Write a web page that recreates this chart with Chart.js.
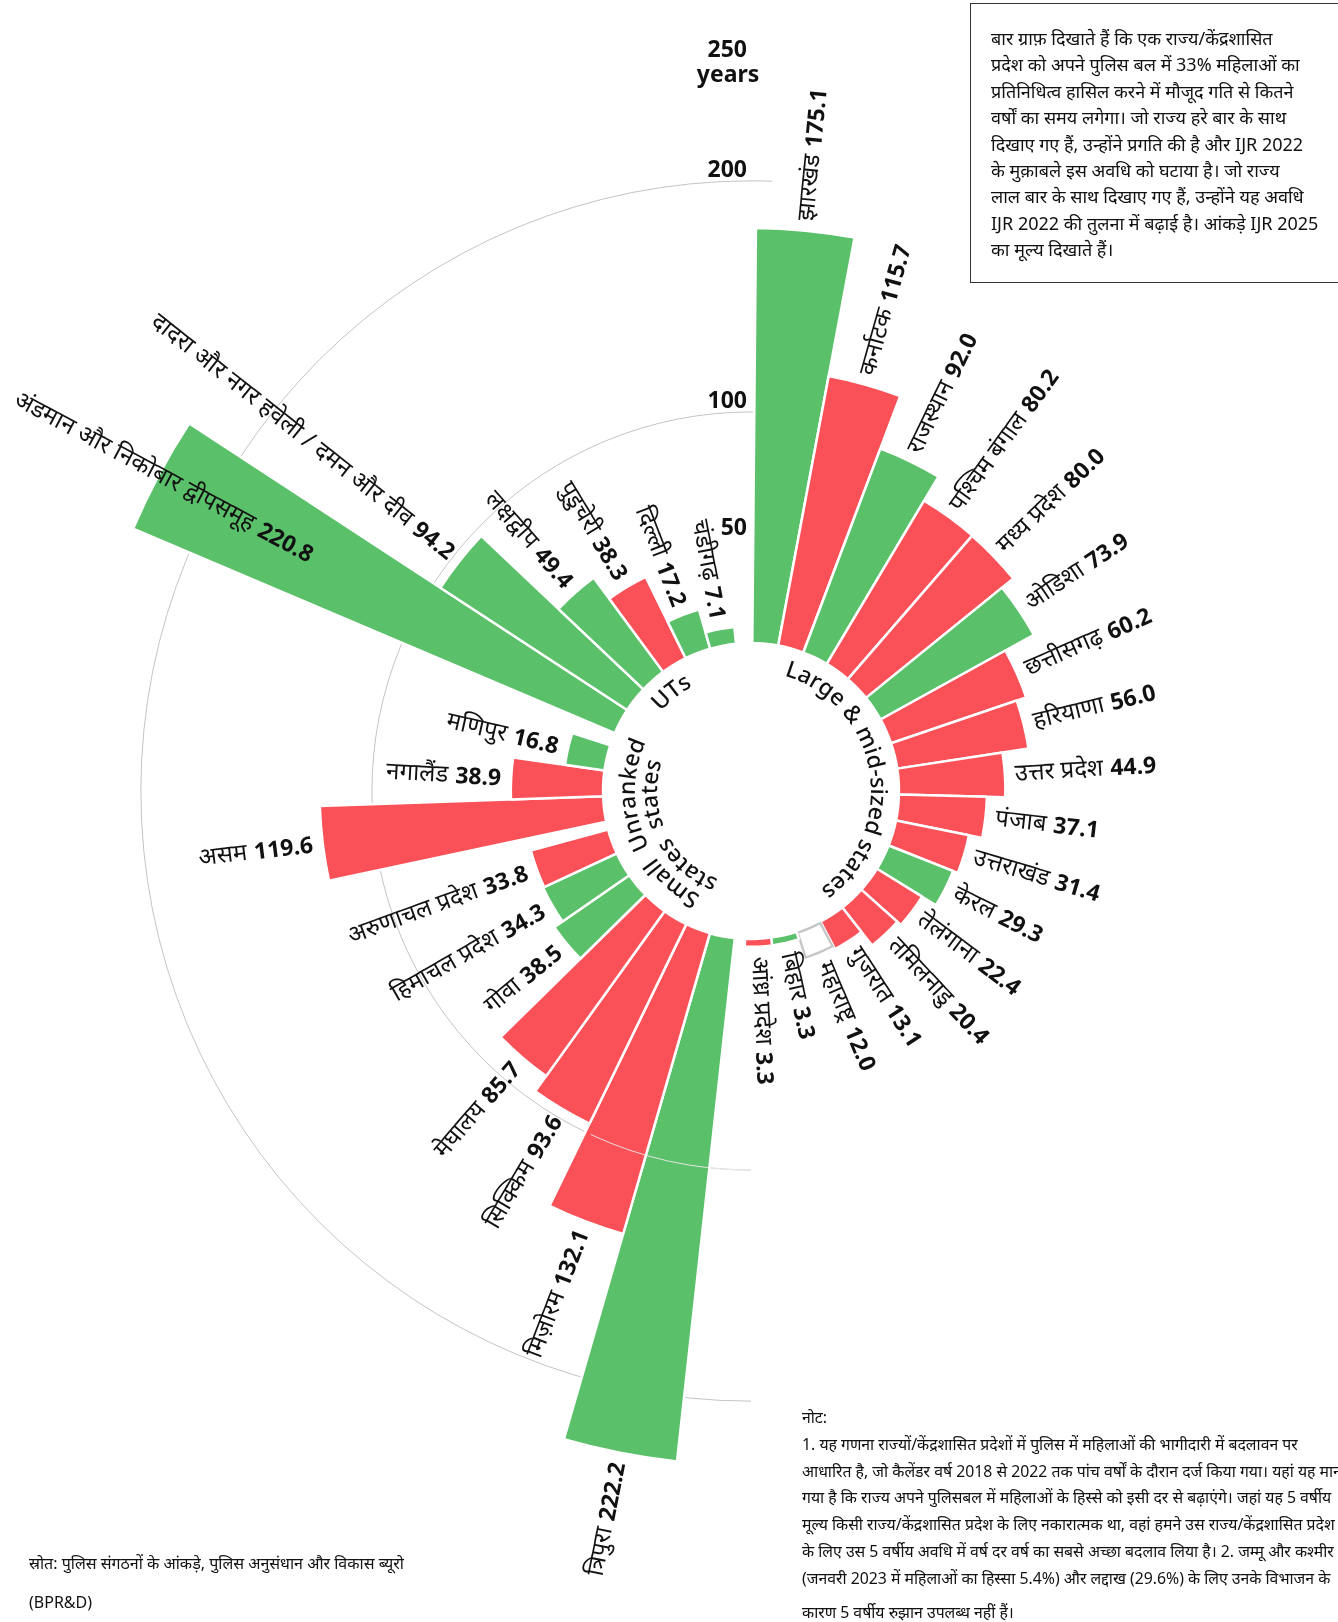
<!DOCTYPE html>
<html lang="hi">
<head>
<meta charset="utf-8">
<title>पुलिस बल में 33% महिलाओं तक पहुंचने में लगने वाले वर्ष</title>
<script src="https://cdn.jsdelivr.net/npm/chart.js@4.4.1/dist/chart.umd.min.js"></script>
<style>
  body { margin: 0; background: #fff; font-family: "Noto Sans", sans-serif; color: #111; }
  #wrap { position: relative; width: 1338px; height: 1622px; overflow: hidden; }
  #chart { position: absolute; left: 0; top: 0; }
  .explain {
    position: absolute; left: 970px; top: 3px; width: 372px; height: 280px;
    box-sizing: border-box; border: 1.5px solid #333; padding: 21px 0 0 20px;
    font-size: 18px; line-height: 26.4px; white-space: nowrap;
  }
  .notes { position: absolute; left: 802px; top: 1404px; font-size: 15.8px; line-height: 26.8px; white-space: nowrap; }
  .notes .last { margin-top: 7px; }
  .source { position: absolute; left: 29px; top: 1544px; font-size: 16px; line-height: 39px; white-space: nowrap; }
</style>
</head>
<body>
<div id="wrap">
  <canvas id="chart" width="1338" height="1622"></canvas>
  <div class="explain">
    बार ग्राफ़ दिखाते हैं कि एक राज्य/केंद्रशासित<br>
    प्रदेश को अपने पुलिस बल में 33% महिलाओं का<br>
    प्रतिनिधित्व हासिल करने में मौजूद गति से कितने<br>
    वर्षों का समय लगेगा। जो राज्य हरे बार के साथ<br>
    दिखाए गए हैं, उन्होंने प्रगति की है और IJR 2022<br>
    के मुक़ाबले इस अवधि को घटाया है। जो राज्य<br>
    लाल बार के साथ दिखाए गए हैं, उन्होंने यह अवधि<br>
    IJR 2022 की तुलना में बढ़ाई है। आंकड़े IJR 2025<br>
    का मूल्य दिखाते हैं।
  </div>
  <div class="notes">
    नोट:<br>
    1. यह गणना राज्यों/केंद्रशासित प्रदेशों में पुलिस में महिलाओं की भागीदारी में बदलावन पर<br>
    आधारित है, जो कैलेंडर वर्ष 2018 से 2022 तक पांच वर्षों के दौरान दर्ज किया गया। यहां यह माना<br>
    गया है कि राज्य अपने पुलिसबल में महिलाओं के हिस्से को इसी दर से बढ़ाएंगे। जहां यह 5 वर्षीय<br>
    मूल्य किसी राज्य/केंद्रशासित प्रदेश के लिए नकारात्मक था, वहां हमने उस राज्य/केंद्रशासित प्रदेश<br>
    के लिए उस 5 वर्षीय अवधि में वर्ष दर वर्ष का सबसे अच्छा बदलाव लिया है। 2. जम्मू और कश्मीर<br>
    (जनवरी 2023 में महिलाओं का हिस्सा 5.4%) और लद्दाख (29.6%) के लिए उनके विभाजन के
    <div class="last">कारण 5 वर्षीय रुझान उपलब्ध नहीं हैं।</div>
  </div>
  <div class="source">
    स्रोत: पुलिस संगठनों के आंकड़े, पुलिस अनुसंधान और विकास ब्यूरो<br>
    (BPR&amp;D)
  </div>
</div>
<script>
// years needed to reach 33% women in police (IJR 2025)
// change vs IJR 2022: 'fell' = green, 'rose' = red, 'flat' = no colour
const LARGE_NAMES = ['झारखंड', 'कर्नाटक', 'राजस्थान', 'पश्चिम बंगाल', 'मध्य प्रदेश', 'ओडिशा',
    'छत्तीसगढ़', 'हरियाणा', 'उत्तर प्रदेश', 'पंजाब', 'उत्तराखंड', 'केरल', 'तेलंगाना',
    'तमिलनाडु', 'गुजरात', 'महाराष्ट्र', 'बिहार', 'आंध्र प्रदेश'];
const LARGE_YEARS = [175.1, 115.7, 92.0, 80.2, 80.0, 73.9, 60.2, 56.0, 44.9, 37.1, 31.4, 29.3,
    22.4, 20.4, 13.1, 12.0, 3.3, 3.3];
const LARGE_CHANGE = ['fell', 'rose', 'fell', 'rose', 'rose', 'fell', 'rose', 'rose', 'rose',
    'rose', 'rose', 'fell', 'rose', 'rose', 'rose', 'flat', 'fell', 'rose'];

const SMALL_NAMES = ['त्रिपुरा', 'मिज़ोरम', 'सिक्किम', 'मेघालय', 'गोवा', 'हिमाचल प्रदेश', 'अरुणाचल प्रदेश'];
const SMALL_YEARS = [222.2, 132.1, 93.6, 85.7, 38.5, 34.3, 33.8];
const SMALL_CHANGE = ['fell', 'rose', 'rose', 'rose', 'fell', 'fell', 'rose'];

const UNRANKED_NAMES = ['असम', 'नगालैंड', 'मणिपुर'];
const UNRANKED_YEARS = [119.6, 38.9, 16.8];
const UNRANKED_CHANGE = ['rose', 'rose', 'fell'];

const UT_NAMES = ['अंडमान और निकोबार द्वीपसमूह', 'दादरा और नगर हवेली / दमन और दीव', 'लक्षद्वीप',
    'पुडुचेरी', 'दिल्ली', 'चंडीगढ़'];
const UT_YEARS = [220.8, 94.2, 49.4, 38.3, 17.2, 7.1];
const UT_CHANGE = ['fell', 'fell', 'fell', 'rose', 'fell', 'fell'];

const TICK_VALUES = [50, 100, 200, 250];
const GRID_VALUES = [100, 200];

// layout
const CX = 751, CY = 791;          // centre of the rose
const HOLE = 148;                  // radius of the empty middle (value 0)
const PX_PER_YEAR = 2.37;
const RADIUS = 587;                // scale drawing area
const GRID_SQUEEZE = 0.975;        // the guide rings sit a touch inside the bar scale
const START_ANGLE = 0.5;
const GREEN = '#5bc06a', RED = '#fa5158';
const NAME_FONT = '400 24px "Noto Sans", sans-serif';
const VALUE_FONT = '700 23px "Noto Sans", sans-serif';
const GROUP_FONT = '500 23px "Noto Sans", sans-serif';
const TICK_FONT = '700 23px "Noto Sans", sans-serif';

const groups = [
    { title: ['Large & mid-sized states'], slot: 10.1, gapAfter: 4, nudge: -11,
      names: LARGE_NAMES, years: LARGE_YEARS, change: LARGE_CHANGE },
    { title: ['Small', 'states'], slot: 9.8, gapAfter: 3.1, nudge: 0,
      names: SMALL_NAMES, years: SMALL_YEARS, change: SMALL_CHANGE },
    { title: ['Unranked', 'states'], slot: 10, gapAfter: 5, nudge: -5,
      names: UNRANKED_NAMES, years: UNRANKED_YEARS, change: UNRANKED_CHANGE },
    { title: ['UTs'], slot: 10.2, gapAfter: 6.3, nudge: -2.5,
      names: UT_NAMES, years: UT_YEARS, change: UT_CHANGE },
];

const labels = [], values = [], fills = [], strokes = [], strokeWidths = [], aligns = [], angles = [], isBar = [];
let angleAt = START_ANGLE;
groups.forEach((g) => {
    g.from = angleAt;
    g.names.forEach((name, i) => {
        labels.push(name);
        values.push(g.years[i]);
        const c = g.change[i];
        fills.push(c === 'fell' ? GREEN : c === 'rose' ? RED : '#ffffff');
        strokes.push(c === 'flat' ? '#c6c6c6' : '#ffffff');
        strokeWidths.push(c === 'flat' ? 2 : 2.5);
        aligns.push(c === 'flat' ? 'inner' : 'center');
        angles.push(g.slot);
        isBar.push(true);
        angleAt += g.slot;
    });
    g.to = angleAt;
    labels.push('');
    values.push(0);
    fills.push('rgba(0,0,0,0)');
    strokes.push('rgba(0,0,0,0)');
    strokeWidths.push(0);
    aligns.push('center');
    angles.push(g.gapAfter);
    isBar.push(false);
    angleAt += g.gapAfter;
});

const SCALE_MIN = -HOLE / PX_PER_YEAR;
const SCALE_MAX = SCALE_MIN + RADIUS / PX_PER_YEAR;

const rad = (d) => d * Math.PI / 180;

function fitRadius(ux, uy, w, h, m) {
    let t = Infinity;
    if (ux < 0) t = Math.min(t, (CX - m) / -ux);
    if (ux > 0) t = Math.min(t, (w - m - CX) / ux);
    if (uy < 0) t = Math.min(t, (CY - m) / -uy);
    if (uy > 0) t = Math.min(t, (h - m - CY) / uy);
    return t;
}

function gridRadius(scale, v) {
    const r0 = scale.getDistanceFromCenterForValue(0);
    return r0 + (scale.getDistanceFromCenterForValue(v) - r0) * GRID_SQUEEZE;
}

function drawArcText(ctx, text, cx, cy, radius, centreDeg) {
    const chars = [...text];
    const widths = chars.map((ch) => ctx.measureText(ch).width);
    const total = widths.reduce((a, b) => a + b, 0);
    let a = rad(centreDeg) - total / radius / 2;
    ctx.textAlign = 'center';
    ctx.textBaseline = 'alphabetic';
    chars.forEach((ch, i) => {
        const mid = a + widths[i] / 2 / radius;
        ctx.save();
        ctx.translate(cx + radius * Math.sin(mid), cy - radius * Math.cos(mid));
        ctx.rotate(mid);
        ctx.fillText(ch, 0, 0);
        ctx.restore();
        a += widths[i] / radius;
    });
}

const roseDecor = {
    id: 'roseDecor',
    beforeDatasetsDraw(chart) {
        const scale = chart.scales.r;
        const ctx = chart.ctx;
        const r0 = scale.getDistanceFromCenterForValue(0);
        // bars start at the edge of the hole
        chart.getDatasetMeta(0).data.forEach((arc) => { arc.innerRadius = r0; });

        // half-circle guides on the left
        ctx.save();
        ctx.strokeStyle = '#c4c4c4';
        ctx.lineWidth = 1;
        GRID_VALUES.forEach((v) => {
            const end = v === 100 ? 372 : 362;
            ctx.beginPath();
            ctx.arc(scale.xCenter, scale.yCenter, gridRadius(scale, v), rad(180 - 90), rad(end - 90));
            ctx.stroke();
        });

        ctx.fillStyle = '#111';
        ctx.font = TICK_FONT;
        ctx.textAlign = 'right';
        ctx.textBaseline = 'alphabetic';
        TICK_VALUES.forEach((v) => {
            let y = scale.yCenter - gridRadius(scale, v) - 4;
            if (v === 50) y += 12;
            if (v === 250) y -= 4;
            ctx.fillText(String(v), scale.xCenter - 4, y);
            if (v === 250) {
                ctx.textAlign = 'center';
                ctx.fillText('years', scale.xCenter - 23, y + 25);
                ctx.textAlign = 'right';
            }
        });
        ctx.restore();
    },
    afterDatasetsDraw(chart) {
        const scale = chart.scales.r;
        const ctx = chart.ctx;
        const cx = scale.xCenter, cy = scale.yCenter;
        const meta = chart.getDatasetMeta(0);

        // the 100 guide shows faintly across the bottom bars
        ctx.save();
        ctx.strokeStyle = 'rgba(235,235,235,0.9)';
        ctx.lineWidth = 1;
        ctx.beginPath();
        ctx.arc(cx, cy, gridRadius(scale, 100), rad(90), rad(115));
        ctx.stroke();
        ctx.restore();

        // bar labels
        ctx.save();
        ctx.fillStyle = '#111';
        ctx.textBaseline = 'middle';
        ctx.textAlign = 'left';
        meta.data.forEach((arc, i) => {
            if (!isBar[i]) return;
            const theta = ((arc.startAngle + arc.endAngle) / 2 + Math.PI / 2) * 180 / Math.PI;
            const t = rad(theta);
            const ux = Math.sin(t), uy = -Math.cos(t);
            const name = labels[i];
            const val = values[i].toFixed(1);
            ctx.font = NAME_FONT;
            const wName = ctx.measureText(name).width;
            ctx.font = VALUE_FONT;
            const wVal = ctx.measureText(val).width;
            const space = 7;
            const total = wName + space + wVal;
            let r = scale.getDistanceFromCenterForValue(values[i]) + 10;
            const limit = fitRadius(ux, uy, chart.width, chart.height, 16);
            if (r + total > limit) r = limit - total;

            ctx.save();
            ctx.translate(cx, cy);
            let x0;
            if (theta < 180) {
                ctx.rotate(t - Math.PI / 2);
                x0 = r;
            } else {
                ctx.rotate(t + Math.PI / 2);
                x0 = -(r + total);
            }
            ctx.font = NAME_FONT;
            ctx.fillText(name, x0, 0);
            ctx.font = VALUE_FONT;
            ctx.fillText(val, x0 + wName + space, 1);
            ctx.restore();
        });

        // group names around the hole
        ctx.font = GROUP_FONT;
        groups.forEach((g) => {
            const centre = (g.from + g.to) / 2 + g.nudge;
            const radii = g.title.length === 1 ? [120] : [116, 94];
            g.title.forEach((line, k) => drawArcText(ctx, line, cx, cy, radii[k], centre));
        });
        ctx.restore();
    },
};

new Chart(document.getElementById('chart'), {
    type: 'polarArea',
    data: {
        labels: labels,
        datasets: [{
            data: values,
            backgroundColor: fills,
            borderColor: strokes,
            borderWidth: strokeWidths,
            borderAlign: aligns,
            angle: angles,
            clip: false,
        }],
    },
    options: {
        responsive: false,
        animation: false,
        layout: { padding: { left: CX - RADIUS, right: 1338 - CX - RADIUS, top: CY - RADIUS, bottom: 1622 - CY - RADIUS } },
        scales: {
            r: {
                min: SCALE_MIN,
                max: SCALE_MAX,
                startAngle: START_ANGLE,
                ticks: { display: false },
                grid: { display: false },
                angleLines: { display: false },
                pointLabels: { display: false },
            },
        },
        plugins: {
            legend: { display: false },
            tooltip: { enabled: false },
        },
    },
    plugins: [roseDecor],
});
</script>
</body>
</html>
